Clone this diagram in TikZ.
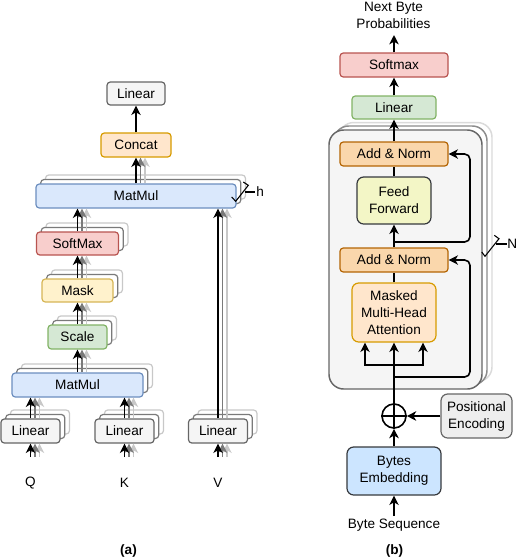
\documentclass[tikz,border=0pt]{standalone}
\usepackage{fontspec}
\setmainfont{Liberation Sans}
\usetikzlibrary{arrows.meta,shadows}
\newcommand\myfs{\fontsize{10.2}{12.75}\selectfont}
\definecolor{linF}{HTML}{F5F5F5}\definecolor{linD}{HTML}{666666}
\definecolor{orgF}{HTML}{FFE6CC}\definecolor{orgD}{HTML}{D79B00}
\definecolor{bluF}{HTML}{DAE8FC}\definecolor{bluD}{HTML}{6C8EBF}
\definecolor{redF}{HTML}{F8CECC}\definecolor{redD}{HTML}{B85450}
\definecolor{yelF}{HTML}{FFF2CC}\definecolor{yelD}{HTML}{D6B656}
\definecolor{grnF}{HTML}{D5E8D4}\definecolor{grnD}{HTML}{82B366}
\definecolor{anF}{HTML}{FAD7AC}\definecolor{anD}{HTML}{B46504}
\definecolor{ffF}{HTML}{F3F6C6}\definecolor{dkD}{HTML}{36393D}
\definecolor{beF}{HTML}{CCE5FF}
\definecolor{peF}{HTML}{EEEEEE}
\definecolor{shD}{HTML}{7A7A7A}\definecolor{shL}{HTML}{C8C8C8}
\definecolor{cD}{HTML}{8C8C8C}\definecolor{cL}{HTML}{DADADA}
\begin{document}
\begin{tikzpicture}[x=0.75pt,y=-0.75pt,
  wh/.style 2 args={minimum width=#1*0.75pt, minimum height=#2*0.75pt},
  box/.style={draw, rounded corners=2.5pt, line width=0.9pt, inner sep=0pt, align=center, font=\myfs},
  tall/.style={rounded corners=5pt},
  stk/.style={copy shadow={shadow xshift=7.1pt,shadow yshift=6.75pt,draw=shL,fill=white,line width=0.9pt},
              copy shadow={shadow xshift=3.56pt,shadow yshift=3.375pt,draw=shD,fill=white,line width=0.9pt}},
  arr/.style={line width=1.2pt, -{Stealth[length=7pt,width=7pt,inset=2pt]}},
  ln/.style={line width=1.2pt},
  mk/.style={line width=0.8pt},
  lbl/.style={font=\myfs, inner sep=0pt, align=center},
  graybox/.style={box, fill=linF, draw=linD},
]
\useasboundingbox (0,0) rectangle (516,558);
\newcommand\triarrow[2]{%
  \draw[arr,shL] ([xshift=6.75pt]#1) -- ([xshift=6.75pt]#2);
  \draw[arr,shD] ([xshift=3.4pt]#1) -- ([xshift=3.4pt]#2);
  \draw[arr] (#1) -- (#2);}

% ---------------- (a) ----------------
\node[graybox, wh={58}{23}] (linTop) at (136,93.5) {Linear};
\node[box, fill=orgF, draw=orgD, wh={70}{24}] (concat) at (136,145) {Concat};
\node[box, stk, fill=bluF, draw=bluD, wh={200}{24}] (mmU) at (136,196) {MatMul};
\node[box, stk, fill=redF, draw=redD, wh={82}{23}] (smx) at (77.5,243.5) {SoftMax};
\node[box, stk, fill=yelF, draw=yelD, wh={71}{23}] (mask) at (77.5,290.5) {Mask};
\node[box, stk, fill=grnF, draw=grnD, wh={59}{24}] (scale) at (77.5,337) {Scale};
\node[box, stk, fill=bluF, draw=bluD, wh={131}{24}] (mmL) at (77.5,385) {MatMul};
\node[graybox, stk, wh={59}{24}] (linQ) at (30.5,431) {Linear};
\node[graybox, stk, wh={59}{24}] (linK) at (124.5,431) {Linear};
\node[graybox, stk, wh={59}{24}] (linV) at (218,431) {Linear};
\node[lbl] (q) at (30.5,483) {Q};
\node[lbl] (k) at (124.5,483) {K};
\node[lbl] (v) at (218,483) {V};
\coordinate (qs) at (30.5,457);
\coordinate (ks) at (124.5,457);
\coordinate (vs) at (218,457);

\triarrow{qs}{linQ.south}
\triarrow{ks}{linK.south}
\triarrow{vs}{linV.south}
\triarrow{linQ.north}{linQ.north |- mmL.south}
\triarrow{linK.north}{linK.north |- mmL.south}
\triarrow{mmL.north}{scale.south}
\triarrow{scale.north}{mask.south}
\triarrow{mask.north}{smx.south}
\triarrow{smx.north}{smx.north |- mmU.south}
\triarrow{linV.north}{linV.north |- mmU.south}
\triarrow{mmU.north}{concat.south}
\draw[arr] (concat.north) -- (linTop.south);

% h marker
\draw[mk] (231.7,197) -- (235.7,201.3) -- (248.3,185.3) -- (243.3,182);
\draw[mk] (244.5,192) -- (255,192);
\node[lbl, anchor=west] (h) at (256,191.5) {h};

\node[font=\myfs\bfseries, inner sep=0pt] (la) at (128.5,551) {(a)};

% ---------------- (b) ----------------
\node[draw=linD, fill=linF, line width=1.1pt, rounded corners=11pt, wh={153}{259},
  copy shadow={shadow xshift=7.5pt,shadow yshift=5.6pt,draw=cL,fill=white,line width=1.1pt},
  copy shadow={shadow xshift=3.75pt,shadow yshift=3pt,draw=cD,fill=white,line width=1.1pt}] (cont) at (405.5,259.5) {};

\node[lbl] (nbp) at (393.5,15.5) {Next Byte\\Probabilities};
\coordinate (nbpb) at (394,35);
\node[box, fill=redF, draw=redD, wh={108}{24}] (soft) at (394,65) {Softmax};
\node[box, fill=grnF, draw=grnD, wh={84}{23}] (linB) at (394,107.5) {Linear};
\node[box, fill=anF, draw=anD, wh={108}{24}] (an1) at (394,154) {Add \& Norm};
\node[box, tall, fill=ffF, draw=dkD, wh={74}{47}] (ff) at (394,200.5) {Feed\\Forward};
\node[box, fill=anF, draw=anD, wh={108}{24}] (an2) at (394,260) {Add \& Norm};
\node[box, tall, fill=orgF, draw=orgD, wh={84}{59}] (mha) at (394,312.5) {Masked\\Multi-Head\\Attention};
\node[circle, draw, line width=1.2pt, minimum size=24*0.75pt, inner sep=0pt] (plus) at (394,416) {};
\draw[ln] (plus.north) -- (plus.south) (plus.west) -- (plus.east);
\node[box, tall, fill=peF, draw=linD, wh={71}{44}] (pe) at (476.5,416) {Positional\\Encoding};
\node[box, tall, fill=beF, draw=dkD, wh={94}{48}] (be) at (394,471) {Bytes\\Embedding};
\node[lbl] (bs) at (394,525) {Byte Sequence};
\coordinate (bst) at (394,516);

\draw[arr] (bst) -- (be.south);
\draw[arr] (be.north) -- (plus.south);
\draw[arr] (pe.west) -- (plus.east);
\draw[arr] (plus.north) -- (mha.south);
\coordinate (fork) at (394,365);
\draw[arr] (fork) -| ([xshift=-21.75pt]mha.south);
\draw[arr] (fork) -| ([xshift=21.75pt]mha.south);
\draw[ln] (mha.north) -- (an2.south);
\coordinate (r2) at (394,377);
\draw[arr, rounded corners=4pt] (r2) -- (470,377) -- (470,260) -- (an2.east);
\draw[arr] (an2.north) -- (ff.south);
\coordinate (r1) at (394,242);
\draw[arr, rounded corners=4pt] (r1) -- (470,242) -- (470,154) -- (an1.east);
\draw[ln] (ff.north) -- (an1.south);
\draw[arr] (an1.north) -- (linB.south);
\draw[arr] (linB.north) -- (soft.south);
\draw[arr] (soft.north) -- (nbpb);

% N marker
\draw[mk] (481.7,252) -- (485,256.3) -- (499,238.7) -- (494.3,235.3);
\draw[mk] (496,244) -- (506.5,244);
\node[lbl, anchor=west] (n) at (507,244) {N};

\node[font=\myfs\bfseries, inner sep=0pt] (lb) at (394.5,551) {(b)};
\end{tikzpicture}
\end{document}
